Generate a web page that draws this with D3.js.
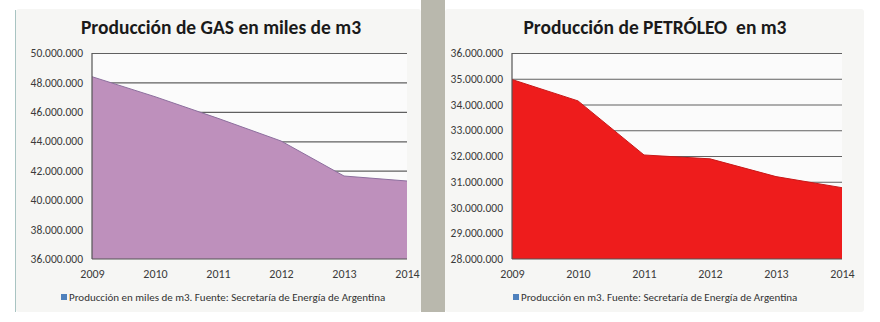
<!DOCTYPE html>
<html>
<head>
<meta charset="utf-8">
<script src="https://cdn.jsdelivr.net/npm/d3@7"></script>
<style>
  html, body { margin: 0; padding: 0; background: #ffffff; }
  svg { display: block; }
</style>
</head>
<body>
<svg id="chart" width="880" height="322"></svg>
<script>
// ---- Data ----
const years = ["2009", "2010", "2011", "2012", "2013", "2014"];
const gasValues = [48390000, 47030000, 45560000, 44020000, 41640000, 41300000];
const gasTicks = [36000000, 38000000, 40000000, 42000000, 44000000, 46000000, 48000000, 50000000];
const oilValues = [34970000, 34140000, 32040000, 31890000, 31200000, 30770000];
const oilTicks = [28000000, 29000000, 30000000, 31000000, 32000000, 33000000, 34000000, 35000000, 36000000];
const gasTitle = "Producción de GAS en miles de m3";
const oilTitle = "Producción de PETRÓLEO  en m3";
const gasLegend = "Producción en miles de m3. Fuente: Secretaría de Energía de Argentina";
const oilLegend = "Producción en m3. Fuente: Secretaría de Energía de Argentina";

const svg = d3.select("#chart");
const font = "Calibri, Carlito, 'Open Sans', 'DejaVu Sans', sans-serif";

// gray separator
svg.append("rect").attr("x", 421).attr("y", 0).attr("width", 24).attr("height", 312).attr("fill", "#b9b8ad");
svg.append("line").attr("x1", 15.5).attr("x2", 15.5).attr("y1", 10).attr("y2", 312).attr("stroke", "#a9c4c2").attr("stroke-width", 1);

const fmt = v => d3.format(",")(v).replace(/,/g, ".");

function drawChart(cfg) {
  const g = svg.append("g");
  // panel
  g.append("rect").attr("x", cfg.panel[0]).attr("y", 9).attr("width", cfg.panel[1] - cfg.panel[0]).attr("height", 303)
    .attr("fill", "#f6f6f4").attr("rx", 3);

  const x = d3.scalePoint().domain(years).range([cfg.left, cfg.right]);
  const y = d3.scaleLinear().domain([cfg.ticks[0], cfg.ticks[cfg.ticks.length - 1]]).range([259, 53]);

  g.append("rect").attr("x", cfg.left).attr("y", 53).attr("width", cfg.right - cfg.left).attr("height", 206).attr("fill", "#fbfbfb");

  const yAxis = d3.axisLeft(y).tickValues(cfg.ticks).tickSize(-(cfg.right - cfg.left)).tickFormat(fmt).tickPadding(8);
  const ya = g.append("g").attr("transform", `translate(${cfg.left},0)`).call(yAxis);
  ya.select(".domain").remove();
  ya.selectAll(".tick line").attr("stroke", "#606060").attr("stroke-width", 1.2)
    .attr("opacity", (d, i) => i === 0 ? 0 : 1);
  ya.selectAll(".tick text").attr("font-family", font).attr("font-size", 11.5).attr("fill", "#3a3a3a").attr("x", cfg.labelX - cfg.left);

  const area = d3.area().x((d, i) => x(years[i])).y0(y(cfg.ticks[0])).y1(d => y(d));
  g.append("path").datum(cfg.values).attr("d", area).attr("fill", cfg.color);
  const line = d3.line().x((d, i) => x(years[i])).y(d => y(d));
  g.append("path").datum(cfg.values).attr("d", line).attr("fill", "none").attr("stroke", cfg.stroke).attr("stroke-width", 1);

  g.append("line").attr("x1", cfg.left).attr("x2", cfg.left).attr("y1", 53).attr("y2", 259).attr("stroke", "#555").attr("stroke-width", 1.2);
  g.append("line").attr("x1", cfg.left).attr("x2", cfg.right).attr("y1", 259).attr("y2", 259).attr("stroke", "#555").attr("stroke-width", 1.2);

  const xAxis = d3.axisBottom(x).tickSize(0).tickPadding(10);
  const xa = g.append("g").attr("transform", "translate(0,259)").call(xAxis);
  xa.select(".domain").remove();
  xa.selectAll(".tick text").attr("font-family", font).attr("font-size", 12).attr("fill", "#3a3a3a");

  g.append("text").attr("x", cfg.titleX).attr("y", 34).attr("text-anchor", "middle").style("white-space", "pre")
    .attr("font-family", font).attr("font-weight", "bold").attr("font-size", 19.5).attr("fill", "#1a1a1a").text(cfg.title);

  g.append("rect").attr("x", cfg.legendX).attr("y", 294).attr("width", 6).attr("height", 6).attr("fill", "#4f81bd");
  g.append("text").attr("x", cfg.legendX + 8).attr("y", 301).attr("font-family", font).attr("font-size", 11).attr("fill", "#333")
    .text(cfg.legend);
}

drawChart({panel: [16, 421], left: 92, right: 407, labelX: 83, ticks: gasTicks, values: gasValues,
  color: "#be90bc", stroke: "#8d6f9e", title: gasTitle, titleX: 221, legend: gasLegend, legendX: 61});
drawChart({panel: [445, 864], left: 512, right: 842, labelX: 503, ticks: oilTicks, values: oilValues,
  color: "#ee1c1c", stroke: "#c81818", title: oilTitle, titleX: 655, legend: oilLegend, legendX: 513});
</script>
</body>
</html>
